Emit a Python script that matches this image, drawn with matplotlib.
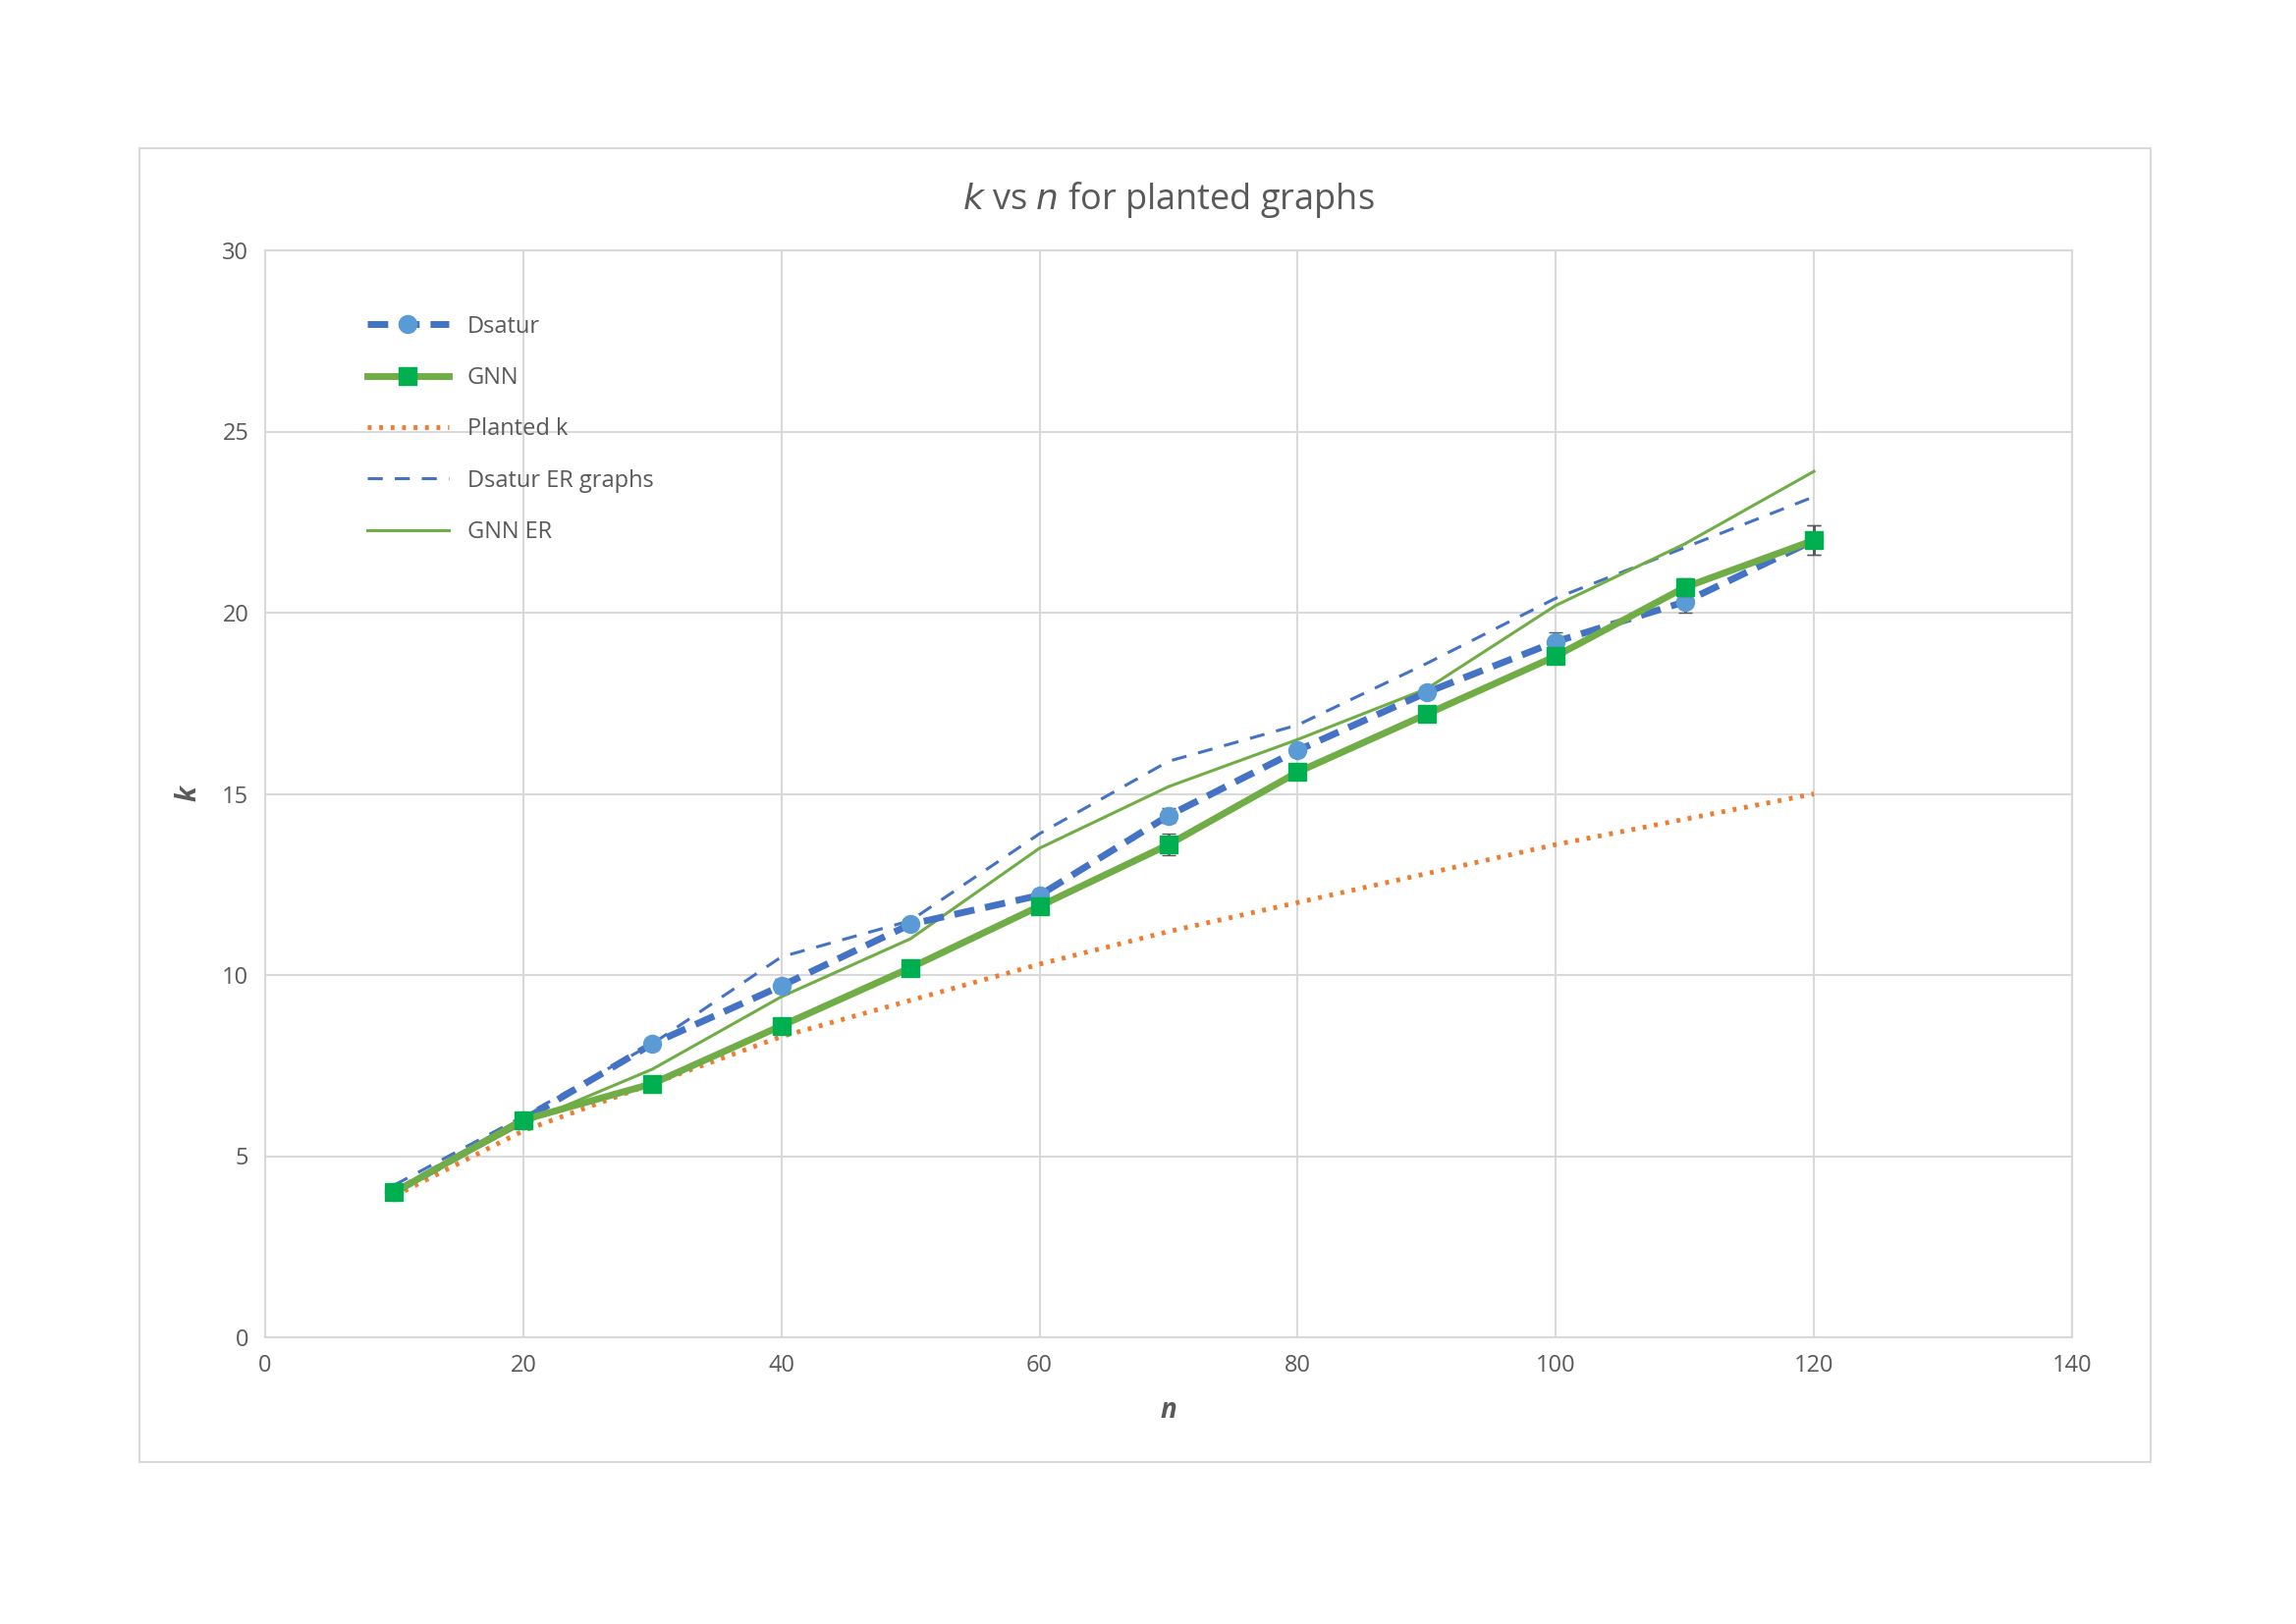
import matplotlib.pyplot as plt
from matplotlib.patches import Rectangle
from matplotlib.lines import Line2D

n = [10, 20, 30, 40, 50, 60, 70, 80, 90, 100, 110, 120]
dsatur = [4.0, 6.0, 8.1, 9.7, 11.4, 12.2, 14.4, 16.2, 17.8, 19.2, 20.3, 22.0]
dsatur_err = [0.1, 0.1, 0.1, 0.2, 0.1, 0.15, 0.2, 0.15, 0.15, 0.25, 0.3, 0.4]
gnn = [4.0, 6.0, 7.0, 8.6, 10.2, 11.9, 13.6, 15.6, 17.2, 18.8, 20.7, 22.0]
gnn_err = [0.1, 0.1, 0.1, 0.1, 0.1, 0.1, 0.3, 0.1, 0.15, 0.1, 0.25, 0.4]
planted = [3.9, 5.7, 7.0, 8.3, 9.3, 10.3, 11.2, 12.0, 12.8, 13.6, 14.3, 15.0]
dsatur_er = [4.2, 6.1, 8.1, 10.5, 11.5, 13.9, 15.9, 16.9, 18.6, 20.4, 21.8, 23.2]
gnn_er = [4.0, 5.9, 7.4, 9.4, 11.0, 13.5, 15.2, 16.5, 17.9, 20.2, 21.9, 23.9]

plt.rcParams['font.family'] = ['Open Sans', 'DejaVu Sans']
fig = plt.figure(figsize=(23.38, 16.54), dpi=100)
fig.patches.append(Rectangle((142 / 2338, 1 - 1489 / 1654), (2190 - 142) / 2338, (1489 - 151) / 1654,
                             transform=fig.transFigure, fill=False, edgecolor='#d9d9d9', lw=1.5))
ax = fig.add_axes([270 / 2338, 1 - 1362 / 1654, (2110 - 270) / 2338, (1362 - 255) / 1654])

ax.errorbar(n, dsatur, yerr=dsatur_err, color='#4472c4', lw=5, ls=(0, (3, 1.6)), marker='o', ms=13,
            mfc='#5b9bd5', mec='#5b9bd5', ecolor='#595959', elinewidth=2, capsize=5, zorder=4)
ax.errorbar(n, gnn, yerr=gnn_err, color='#70ad47', lw=5, marker='s', ms=13,
            mfc='#00b050', mec='#00b050', ecolor='#595959', elinewidth=2, capsize=5, zorder=5)
h3, = ax.plot(n, planted, color='#ed7d31', lw=3.5, ls=(0, (0.8, 1.6)), label='Planted k', zorder=3)
h4, = ax.plot(n, dsatur_er, color='#4472c4', lw=2.2, ls=(0, (5, 4)), label='Dsatur ER graphs', zorder=3)
h5, = ax.plot(n, gnn_er, color='#70ad47', lw=2.2, label='GNN ER', zorder=3)
h1 = Line2D([], [], color='#4472c4', lw=5, ls=(0, (3, 1.6)), marker='o', ms=13,
            mfc='#5b9bd5', mec='#5b9bd5', label='Dsatur')
h2 = Line2D([], [], color='#70ad47', lw=5, marker='s', ms=13,
            mfc='#00b050', mec='#00b050', label='GNN')

ax.set_xlim(0, 140)
ax.set_ylim(0, 30)
ax.set_xticks(range(0, 141, 20))
ax.set_yticks(range(0, 31, 5))
ax.grid(color='#d9d9d9', lw=1.5)
ax.set_axisbelow(True)
for s in ax.spines.values():
    s.set_color('#d9d9d9')
    s.set_linewidth(1.5)
ax.tick_params(length=0, labelsize=17, labelcolor='#595959', pad=12)
ax.set_xlabel('n', fontsize=20, color='#595959', style='italic', fontweight='bold', labelpad=14)
ax.set_ylabel('k', fontsize=20, color='#595959', style='italic', fontweight='bold', labelpad=14)
ax.set_title('$k$ vs $n$ for planted graphs', fontsize=26, color='#595959', pad=30)

ax.legend(handles=[h1, h2, h3, h4, h5], loc='upper left', bbox_to_anchor=(0.045, 0.96),
          frameon=False, fontsize=17, labelcolor='#595959', handlelength=3.5, labelspacing=1.2)

fig.savefig('out.png')
